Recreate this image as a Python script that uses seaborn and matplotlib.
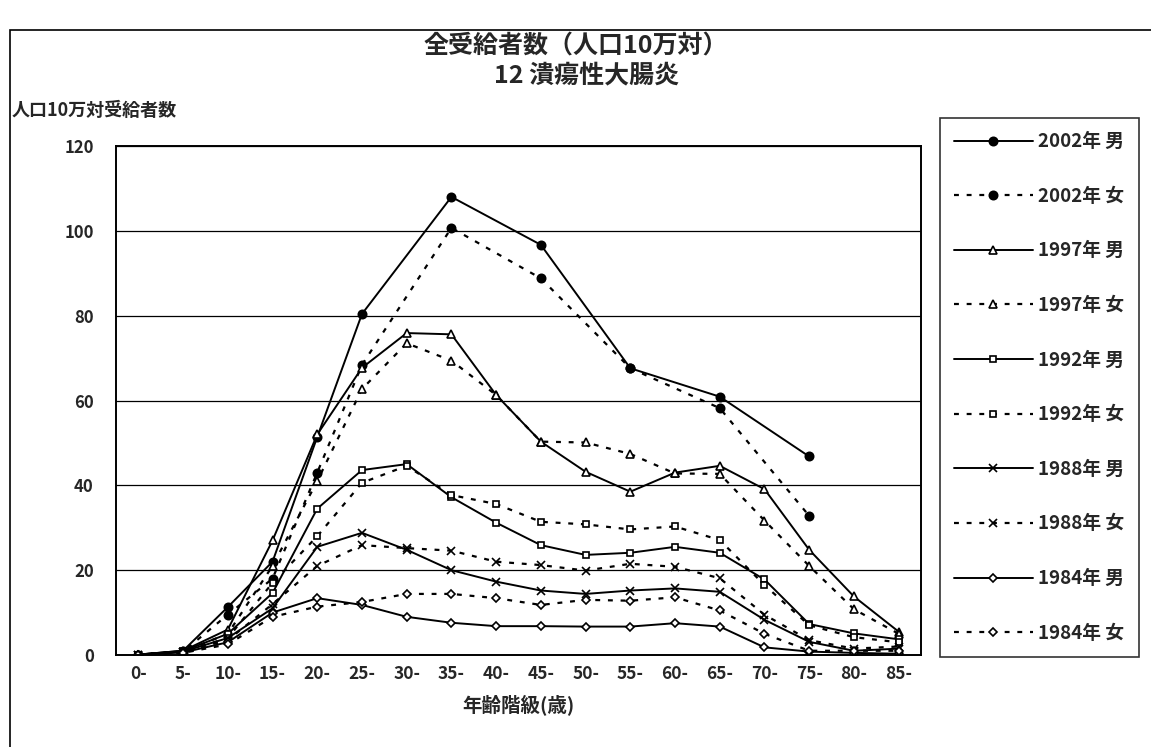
import numpy as np
import pandas as pd
import matplotlib.pyplot as plt
import seaborn as sns
from matplotlib.lines import Line2D
from matplotlib.patches import Rectangle

sns.set_style("white")
plt.rcParams['font.family'] = ['Noto Sans CJK JP', 'DejaVu Sans']
plt.rcParams['font.weight'] = 'bold'

nan = np.nan

# age groups (x axis)
ages = ['0-', '5-', '10-', '15-', '20-', '25-', '30-', '35-', '40-',
        '45-', '50-', '55-', '60-', '65-', '70-', '75-', '80-', '85-']

# recipients per 100k population
m2002 = [0.1, 1.0, 11.3, 22, 51.4, 80.4, nan, 108, nan, 96.7, nan, 67.6, nan, 60.9, nan, 46.8, nan, nan]
f2002 = [0.1, 0.8, 9.5, 18, 43, 68.4, nan, 100.7, nan, 88.8, nan, 67.6, nan, 58.2, nan, 32.8, nan, nan]
m1997 = [0.1, 1.0, 6, 27, 52, 67.7, 75.9, 75.6, 61.3, 50.3, 43.2, 38.5, 43, 44.6, 39.1, 24.8, 13.8, 5.5]
f1997 = [0.1, 0.8, 5, 21, 41, 62.7, 73.5, 69.4, 61.3, 50.3, 50.1, 47.4, 42.8, 42.7, 31.7, 21, 10.8, 5]
m1992 = [0.1, 0.9, 5, 14.6, 34.5, 43.6, 45, 37.2, 31.2, 25.9, 23.6, 24.1, 25.5, 24.1, 17.8, 7.3, 5.1, 3.7]
f1992 = [0.1, 0.8, 4, 17, 28, 40.6, 44.6, 37.7, 35.6, 31.4, 30.8, 29.6, 30.3, 27.1, 16.5, 7, 4.2, 3]
m1988 = [0.1, 0.8, 4, 11, 25.5, 28.8, 24.8, 20, 17.3, 15.2, 14.4, 15.2, 15.7, 14.9, 8.3, 3.1, 1.0, 1.5]
f1988 = [0.1, 0.7, 3.5, 12, 21, 25.9, 25.2, 24.6, 22, 21.2, 19.9, 21.5, 20.8, 18.1, 9.5, 3.5, 1.5, 2]
m1984 = [0.1, 0.6, 3, 10, 13.4, 11.8, 9, 7.6, 6.8, 6.8, 6.7, 6.7, 7.5, 6.7, 1.8, 0.8, 0.5, 0.3]
f1984 = [0.1, 0.5, 2.5, 9, 11.4, 12.5, 14.4, 14.4, 13.4, 11.8, 13, 12.8, 13.6, 10.5, 5, 1.0, 1.0, 1.0]

labels = ['2002年 男', '2002年 女', '1997年 男', '1997年 女', '1992年 男',
          '1992年 女', '1988年 男', '1988年 女', '1984年 男', '1984年 女']
series = [m2002, f2002, m1997, f1997, m1992, f1992, m1988, f1988, m1984, f1984]

# marker, marker face, marker size for each year
year_style = [('o', 'black', 6), ('^', 'white', 6), ('s', 'white', 5),
              ('x', 'black', 6), ('D', 'white', 4.5)]
dash = (0, (2.2, 3.5))

fig = plt.figure(figsize=(11.51, 7.47), dpi=100)
ax = fig.add_axes([116 / 1151, 1 - 655 / 747, (921 - 116) / 1151, (655 - 146) / 747])

handles = []
for i, (lab, vals) in enumerate(zip(labels, series)):
    mk, fc, ms = year_style[i // 2]
    ls = '-' if i % 2 == 0 else dash
    lw = 1.4 if i % 2 == 0 else 1.6
    df = pd.DataFrame({'pos': np.arange(len(ages)), 'val': vals}).dropna()
    sns.lineplot(data=df, x='pos', y='val', ax=ax, color='black', linestyle=ls,
                 linewidth=lw, marker=mk, markersize=ms, markerfacecolor=fc,
                 markeredgecolor='black', markeredgewidth=1.2, legend=False)
    handles.append(Line2D([], [], color='black', linestyle=ls, linewidth=lw,
                          marker=mk, markersize=ms, markerfacecolor=fc,
                          markeredgecolor='black', markeredgewidth=1.2))

ax.set_xlim(-0.5, len(ages) - 0.5)
ax.set_ylim(0, 120)
ax.set_xticks(np.arange(len(ages)))
ax.set_xticklabels(ages, fontsize=12.5, fontweight='bold')
ax.set_xticks(np.arange(len(ages) + 1) - 0.5, minor=True)
ax.tick_params(axis='x', which='major', length=0, pad=7)
ax.tick_params(axis='x', which='minor', length=4, direction='in', color='black')
ax.set_yticks(np.arange(0, 121, 20))
ax.set_yticklabels([str(v) for v in range(0, 121, 20)], fontsize=12, fontweight='bold')
ax.tick_params(axis='y', which='major', length=0, pad=16)
ax.grid(axis='y', color='black', linewidth=0.9)
ax.set_axisbelow(True)
for sp in ax.spines.values():
    sp.set_color('black')
    sp.set_linewidth(1.4)
ax.set_xlabel('年齢階級(歳)', fontsize=14, fontweight='bold', labelpad=8)
ax.set_ylabel('')

fig.text(0.5, 1 - 46 / 747, '全受給者数（人口10万対）', ha='center', va='center',
         fontsize=18, fontweight='bold')
fig.text(0.51, 1 - 76 / 747, '12 潰瘍性大腸炎', ha='center', va='center',
         fontsize=18, fontweight='bold')
fig.text(12 / 1151, 1 - 110 / 747, '人口10万対受給者数', ha='left', va='center',
         fontsize=13, fontweight='bold')

leg = ax.legend(handles, labels, loc='upper left',
                bbox_to_anchor=(940 / 1151, 1 - 118 / 747),
                bbox_transform=fig.transFigure, borderaxespad=0,
                frameon=True, fancybox=False,
                edgecolor='black', fontsize=13.5, handlelength=4.2,
                labelspacing=1.9, borderpad=0.75, handletextpad=0.3)
leg.get_frame().set_linewidth(1.2)
for t in leg.get_texts():
    t.set_fontweight('bold')

# outer frame of the chart area
fig.patches.append(Rectangle((10 / 1151, -0.1), 1.2, 1.1 - 30 / 747,
                             transform=fig.transFigure, fill=False,
                             edgecolor='black', linewidth=1.2))

fig.savefig('out.png', dpi=100)
